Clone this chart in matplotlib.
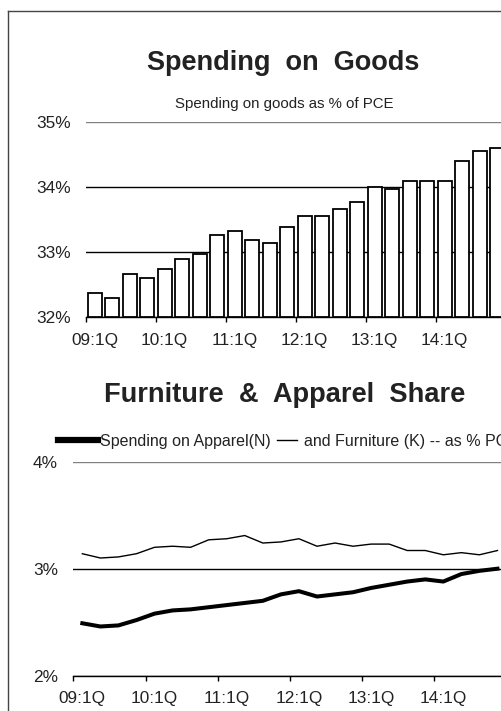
import matplotlib
matplotlib.use("Agg")
from matplotlib import pyplot as plt
from matplotlib.lines import Line2D
import numpy as np

plt.rcParams['font.family'] = ['Liberation Sans', 'DejaVu Sans']
ink = '#222222'

# quarterly data, 09:1Q .. 14:4Q
year_labels = ['09:1Q', '10:1Q', '11:1Q', '12:1Q', '13:1Q', '14:1Q']
goods = [32.37, 32.29, 32.67, 32.60, 32.74, 32.89, 32.98, 33.27,
         33.33, 33.19, 33.14, 33.38, 33.55, 33.55, 33.67, 33.77,
         34.00, 33.97, 34.10, 34.10, 34.10, 34.40, 34.55, 34.60]
furniture = [3.14, 3.10, 3.11, 3.14, 3.20, 3.21, 3.20, 3.27,
             3.28, 3.31, 3.24, 3.25, 3.28, 3.21, 3.24, 3.21,
             3.23, 3.23, 3.17, 3.17, 3.13, 3.15, 3.13, 3.17]
apparel = [2.49, 2.46, 2.47, 2.52, 2.58, 2.61, 2.62, 2.64,
           2.66, 2.68, 2.70, 2.76, 2.79, 2.74, 2.76, 2.78,
           2.82, 2.85, 2.88, 2.90, 2.88, 2.95, 2.98, 3.00]
goods_ticks = [32, 33, 34, 35]
share_ticks = [2, 3, 4]

W, H = 501, 711
fig = plt.figure(figsize=(W / 100, H / 100), dpi=100)
fig.patch.set_facecolor('white')

idx = np.arange(len(goods))
year_idx = np.arange(0, len(goods), 4)


def style_axes(ax, ticks):
    for s in ['top', 'right', 'left']:
        ax.spines[s].set_visible(False)
    ax.spines['bottom'].set_color('black')
    ax.spines['bottom'].set_linewidth(1)
    ax.set_xlim(-0.5, 24.5)
    ax.set_ylim(ticks[0], ticks[-1])
    ax.set_yticks(ticks)
    ax.set_yticklabels(['%d%%' % t for t in ticks])
    ax.tick_params(axis='y', length=0, pad=11, labelsize=12.4, labelcolor=ink)
    # tick marks on year boundaries, labels under the first quarter
    ax.set_xticks(year_idx - 0.5)
    ax.set_xticklabels([])
    ax.tick_params(axis='x', which='major', length=3.5, width=1, direction='out', color='black')
    ax.set_xticks(year_idx, minor=True)
    ax.set_xticklabels(year_labels, minor=True)
    ax.tick_params(axis='x', which='minor', length=0, pad=11, labelsize=12.4, labelcolor=ink)
    ax.grid(axis='y', color='black', linewidth=1)
    ax.set_axisbelow(True)
    ax.get_ygridlines()[-1].set_color('#808080')


# top panel: goods share
ax1 = fig.add_axes([86 / W, (H - 317.3) / H, 17.5 * 25 / W, 195.3 / H])
ax1.bar(idx, np.array(goods) - goods_ticks[0], bottom=goods_ticks[0], width=0.8,
        color='white', edgecolor='black', linewidth=1.3, zorder=3)
style_axes(ax1, goods_ticks)

# bottom panel: apparel and furniture
ax2 = fig.add_axes([73.3 / W, (H - 675.7) / H, 18.05 * 25 / W, 214 / H])
l_app, = ax2.plot(idx, apparel, color='black', linewidth=2.9, zorder=3)
l_fur, = ax2.plot(idx, furniture, color='black', linewidth=1.0, zorder=3)
style_axes(ax2, share_ticks)

fig.text(283.5 / W, (H - 69.5) / H, 'Spending  on  Goods', ha='center', va='baseline',
         fontsize=19.5, fontweight='bold', color=ink)
fig.text(284 / W, (H - 107.7) / H, 'Spending on goods as % of PCE', ha='center',
         va='baseline', fontsize=10.8, color=ink)
fig.text(285 / W, (H - 401.7) / H, 'Furniture  &  Apparel  Share', ha='center',
         va='baseline', fontsize=19.6, fontweight='bold', color=ink)

h_app = Line2D([], [], color='black', linewidth=4.5)
h_fur = Line2D([], [], color='black', linewidth=1.0)
leg1 = ax2.legend([h_app], ['Spending on Apparel(N)'], loc='center left',
                  bbox_to_anchor=(58 / W, (H - 441.5) / H), bbox_transform=fig.transFigure,
                  frameon=False, fontsize=11.5, handlelength=2.5, handletextpad=0.15,
                  borderpad=0, borderaxespad=0, labelcolor=ink)
ax2.add_artist(leg1)
ax2.legend([h_fur], ['and Furniture (K) -- as % PCE'], loc='center left',
           bbox_to_anchor=(277 / W, (H - 441.5) / H), bbox_transform=fig.transFigure,
           frameon=False, fontsize=11.5, handlelength=1.25, handletextpad=0.45,
           borderpad=0, borderaxespad=0, labelcolor=ink)

# panel frame (left and top edges)
fig.add_artist(Line2D([8 / W, 8 / W], [0, (H - 11) / H], color='#444444', linewidth=1,
                      transform=fig.transFigure))
fig.add_artist(Line2D([8 / W, 1], [(H - 11) / H, (H - 11) / H], color='#444444', linewidth=1,
                      transform=fig.transFigure))

fig.savefig('out.png', dpi=100)
